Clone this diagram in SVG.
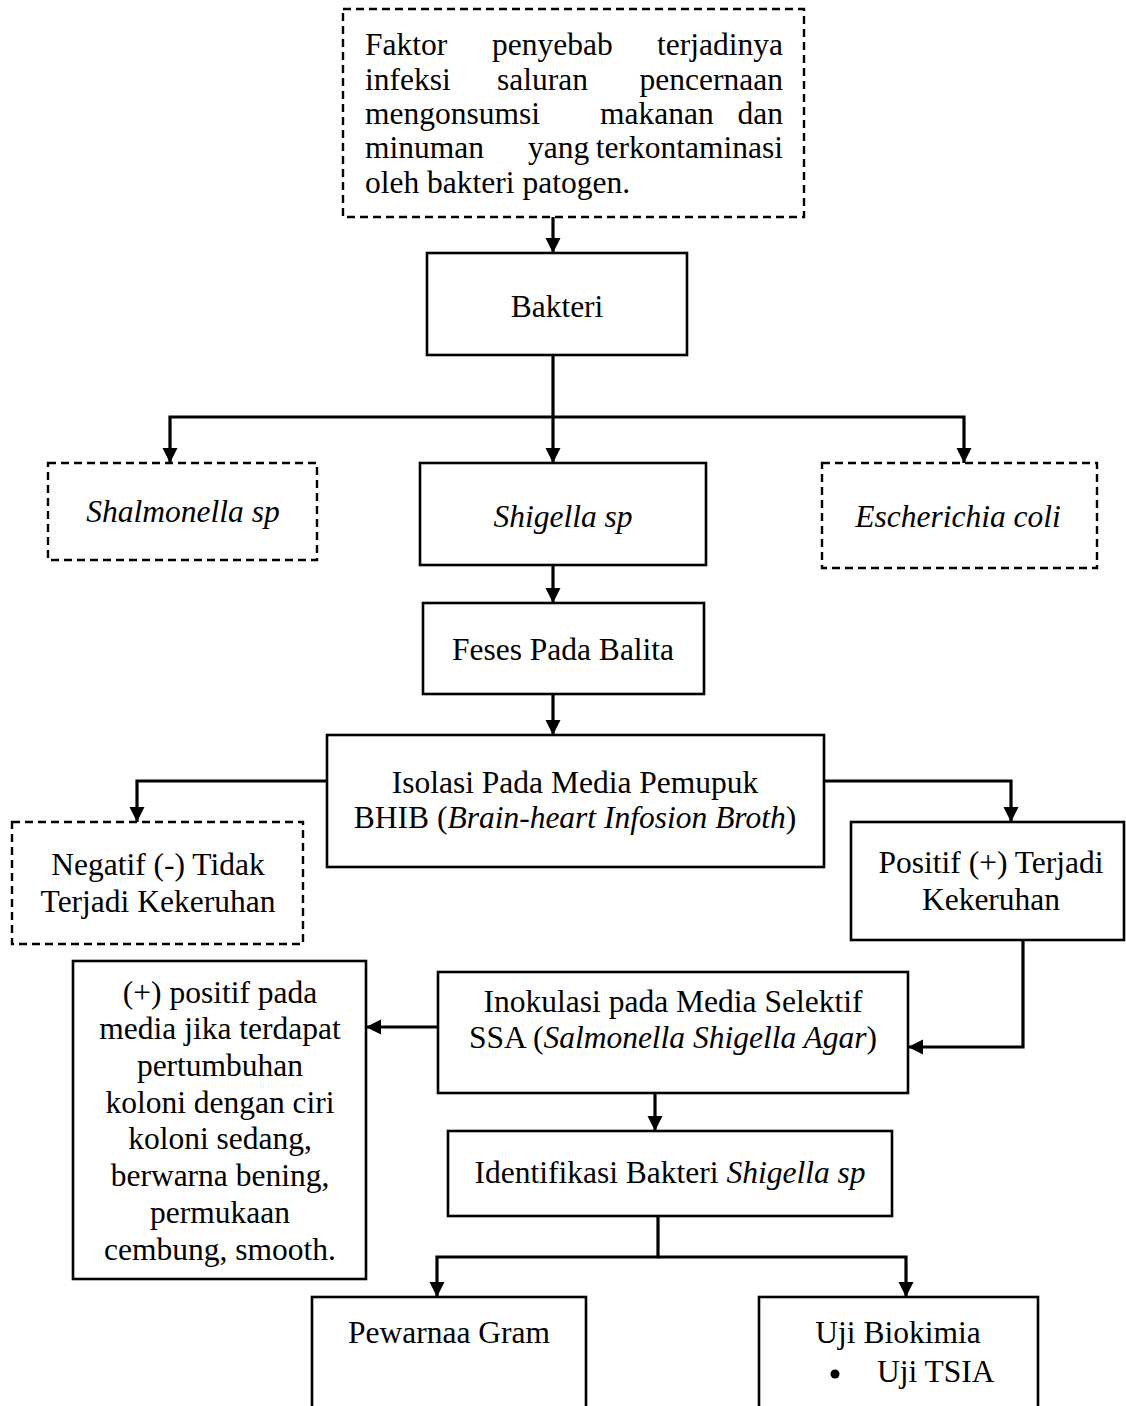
<svg xmlns="http://www.w3.org/2000/svg" width="1126" height="1406" viewBox="0 0 1126 1406">
<style>
  .box { fill: #fff; stroke: #000; stroke-width: 2.6; }
  .dash { fill: #fff; stroke: #000; stroke-width: 2.4; stroke-dasharray: 8 5; }
  .t { font-family: "Liberation Serif", "Times New Roman", serif; font-size: 31.5px; fill: #000; }
  .c { text-anchor: middle; }
  .e { text-anchor: end; }
  .i { font-style: italic; }
  .conn path { fill: none; stroke: #000; stroke-width: 3.2; marker-end: url(#arr); }
  .conn path.plain { marker-end: none; }
</style>
<defs>
  <marker id="arr" markerUnits="userSpaceOnUse" markerWidth="16" markerHeight="16" refX="15" refY="7.5" orient="auto">
    <path d="M0,0 L15,7.5 L0,15 z" fill="#000"/>
  </marker>
</defs>
<rect width="1126" height="1406" fill="#fff"/>

<g id="connectors" class="conn">
  <path d="M553,217 V253"/>
  <path d="M553,355 V463"/>
  <path d="M553,417 H170 V463"/>
  <path d="M553,417 H964 V463"/>
  <path d="M553,565 V603"/>
  <path d="M553,694 V735"/>
  <path d="M327,781 H137 V822"/>
  <path d="M824,781 H1011 V822"/>
  <path d="M1023,940 V1047 H908"/>
  <path d="M438,1027 H366"/>
  <path d="M655,1093 V1131"/>
  <path d="M658,1216 V1257 H437 V1297"/>
  <path d="M658,1257 H906 V1297"/>
</g>

<g id="node-faktor">
  <rect class="dash" x="343" y="9" width="461" height="208"/>
  <text class="t" x="365" y="55">Faktor</text>
  <text class="t" x="492" y="55">penyebab</text>
  <text class="t e" x="783" y="55">terjadinya</text>
  <text class="t" x="365" y="90">infeksi</text>
  <text class="t" x="497" y="90">saluran</text>
  <text class="t e" x="783" y="90">pencernaan</text>
  <text class="t" x="365" y="124">mengonsumsi</text>
  <text class="t" x="600" y="124">makanan</text>
  <text class="t e" x="783" y="124">dan</text>
  <text class="t" x="365" y="158">minuman</text>
  <text class="t" x="528" y="158">yang</text>
  <text class="t e" x="783" y="158">terkontaminasi</text>
  <text class="t" x="365" y="193">oleh bakteri patogen.</text>
</g>

<g id="node-bakteri">
  <rect class="box" x="427" y="253" width="260" height="102"/>
  <text class="t c" x="557" y="317">Bakteri</text>
</g>

<g id="node-shalmonella">
  <rect class="dash" x="48" y="463" width="269" height="97"/>
  <text class="t c i" x="183" y="522">Shalmonella sp</text>
</g>

<g id="node-shigella">
  <rect class="box" x="420" y="463" width="286" height="102"/>
  <text class="t c i" x="563" y="527">Shigella sp</text>
</g>

<g id="node-ecoli">
  <rect class="dash" x="822" y="463" width="275" height="105"/>
  <text class="t c i" x="958" y="527">Escherichia coli</text>
</g>

<g id="node-feses">
  <rect class="box" x="423" y="603" width="281" height="91"/>
  <text class="t c" x="563" y="660">Feses Pada Balita</text>
</g>

<g id="node-isolasi">
  <rect class="box" x="327" y="735" width="497" height="132"/>
  <text class="t c" x="575" y="793">Isolasi Pada Media Pemupuk</text>
  <text class="t c" x="575" y="828">BHIB (<tspan class="i">Brain-heart Infosion Broth</tspan>)</text>
</g>

<g id="node-negatif">
  <rect class="dash" x="12" y="822" width="291" height="122"/>
  <text class="t c" x="158" y="875">Negatif (-) Tidak</text>
  <text class="t c" x="158" y="912">Terjadi Kekeruhan</text>
</g>

<g id="node-positif">
  <rect class="box" x="851" y="822" width="273" height="118"/>
  <text class="t c" x="991" y="873">Positif (+) Terjadi</text>
  <text class="t c" x="991" y="910">Kekeruhan</text>
</g>

<g id="node-positif-media">
  <rect class="box" x="73" y="961" width="293" height="318"/>
  <text class="t c" x="220" y="1003">(+) positif pada</text>
  <text class="t c" x="220" y="1039">media jika terdapat</text>
  <text class="t c" x="220" y="1076">pertumbuhan</text>
  <text class="t c" x="220" y="1113">koloni dengan ciri</text>
  <text class="t c" x="220" y="1149">koloni sedang,</text>
  <text class="t c" x="220" y="1186">berwarna bening,</text>
  <text class="t c" x="220" y="1223">permukaan</text>
  <text class="t c" x="220" y="1260">cembung, smooth.</text>
</g>

<g id="node-inokulasi">
  <rect class="box" x="438" y="972" width="470" height="121"/>
  <text class="t c" x="673" y="1012">Inokulasi pada Media Selektif</text>
  <text class="t c" x="673" y="1048">SSA (<tspan class="i">Salmonella Shigella Agar</tspan>)</text>
</g>

<g id="node-identifikasi">
  <rect class="box" x="448" y="1131" width="444" height="85"/>
  <text class="t c" x="670" y="1183">Identifikasi Bakteri <tspan class="i">Shigella sp</tspan></text>
</g>

<g id="node-pewarnaa">
  <rect class="box" x="312" y="1297" width="274" height="150"/>
  <text class="t c" x="449" y="1343">Pewarnaa Gram</text>
</g>

<g id="node-biokimia">
  <rect class="box" x="759" y="1297" width="279" height="150"/>
  <text class="t c" x="898" y="1343">Uji Biokimia</text>
  <circle cx="835" cy="1374" r="4.5" fill="#000"/>
  <text class="t" x="877" y="1382">Uji TSIA</text>
</g>
</svg>
